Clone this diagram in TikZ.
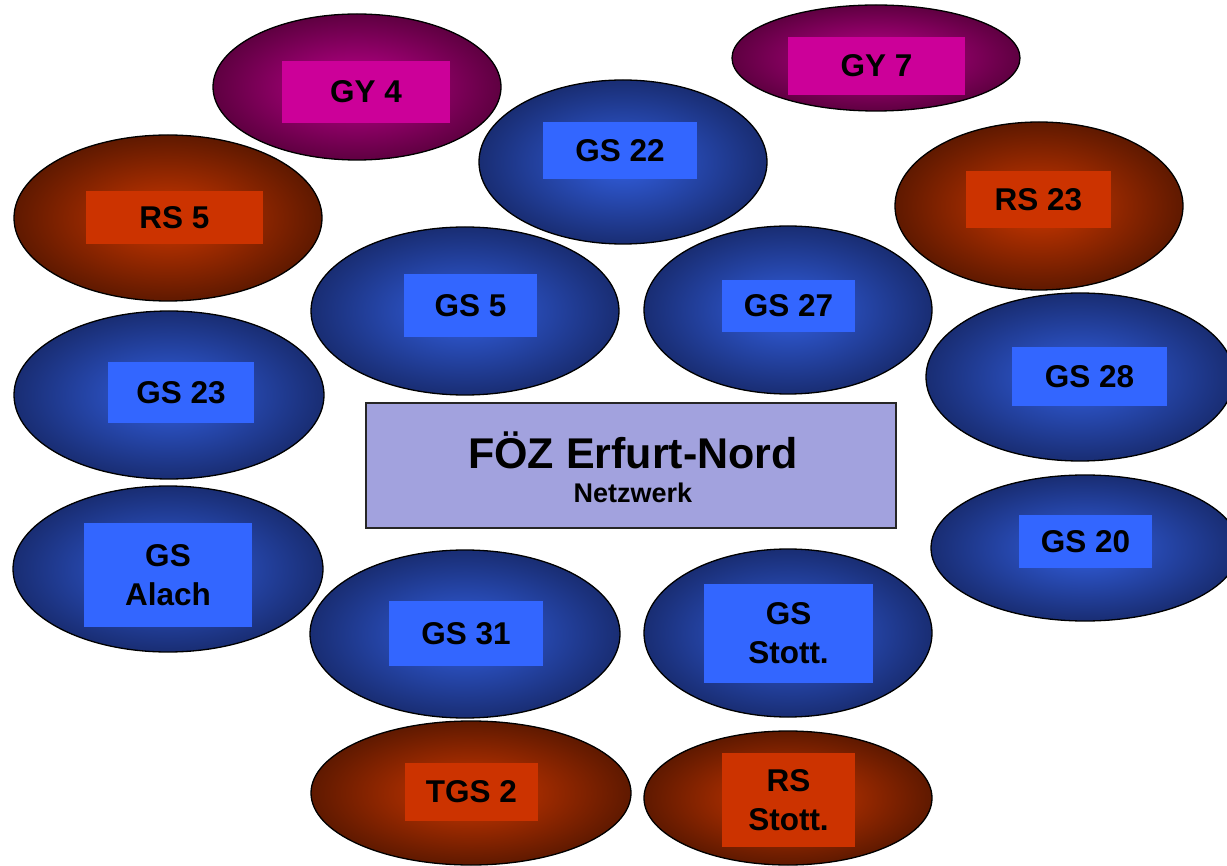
\documentclass[tikz,border=0pt]{standalone}
\usepackage{fontspec}
\setmainfont{Liberation Sans}
\usetikzlibrary{shapes.geometric}
\definecolor{magrect}{RGB}{204,0,153}
\definecolor{magin}{RGB}{190,0,140}
\definecolor{magout}{RGB}{95,0,65}
\definecolor{redrect}{RGB}{204,51,0}
\definecolor{redin}{RGB}{205,55,0}
\definecolor{redout}{RGB}{95,25,0}
\definecolor{bluerect}{RGB}{51,102,255}
\definecolor{bluein}{RGB}{50,95,225}
\definecolor{blueout}{RGB}{25,45,115}
\definecolor{centerfill}{RGB}{162,162,222}
\tikzset{
  blob/.style={ellipse, draw=black, line width=1.3pt, inner sep=0pt, shading=radial},
  magblob/.style={blob, inner color=magin, outer color=magout},
  redblob/.style={blob, inner color=redin, outer color=redout},
  blueblob/.style={blob, inner color=bluein, outer color=blueout},
  lbl/.style={rectangle, inner sep=0pt, align=center, font=\fontsize{31.5}{39}\selectfont\bfseries, text=black},
  maglbl/.style={lbl, fill=magrect},
  redlbl/.style={lbl, fill=redrect},
  bluelbl/.style={lbl, fill=bluerect},
}
\begin{document}
\begin{tikzpicture}[x=1pt,y=-1pt]
\clip (0,0) rectangle (1227,866);
\fill[white] (0,0) rectangle (1227,866);
% ellipses
\node[magblob, minimum width=288pt, minimum height=146pt] (e1) at (357,87) {};
\node[magblob, minimum width=288pt, minimum height=106pt] (e2) at (876,58) {};
\node[blueblob, minimum width=288pt, minimum height=164pt] (e3) at (623,162) {};
\node[redblob, minimum width=308pt, minimum height=166pt] (e4) at (168,218) {};
\node[redblob, minimum width=288pt, minimum height=168pt] (e5) at (1039,206) {};
\node[blueblob, minimum width=308pt, minimum height=168pt] (e6) at (465,311) {};
\node[blueblob, minimum width=288pt, minimum height=168pt] (e7) at (788,310) {};
\node[blueblob, minimum width=308pt, minimum height=168pt] (e8) at (1080,377) {};
\node[blueblob, minimum width=310pt, minimum height=168pt] (e9) at (169,395) {};
\node[blueblob, minimum width=310pt, minimum height=166pt] (e10) at (168,569) {};
\node[blueblob, minimum width=308pt, minimum height=146pt] (e11) at (1085,548) {};
\node[blueblob, minimum width=310pt, minimum height=168pt] (e12) at (465,634) {};
\node[blueblob, minimum width=288pt, minimum height=168pt] (e13) at (788,633) {};
\node[redblob, minimum width=320pt, minimum height=144pt] (e14) at (471,793) {};
\node[redblob, minimum width=288pt, minimum height=134pt] (e15) at (788,798) {};
% labels
\node[maglbl, minimum width=168pt, minimum height=62pt] (t1) at (366,92) {GY 4};
\node[maglbl, minimum width=177pt, minimum height=58pt] (t2) at (876.5,66) {GY 7};
\node[bluelbl, minimum width=154pt, minimum height=57pt] (t3) at (620,150.5) {GS 22};
\node[redlbl, minimum width=177pt, minimum height=53pt] (t4) at (174.5,217.5) {RS 5};
\node[redlbl, minimum width=145pt, minimum height=57pt] (t5) at (1038.5,199.5) {RS 23};
\node[bluelbl, minimum width=133pt, minimum height=63pt] (t6) at (470.5,305.5) {GS 5};
\node[bluelbl, minimum width=133pt, minimum height=52pt] (t7) at (788.5,306) {GS 27};
\node[bluelbl, minimum width=155pt, minimum height=59pt] (t8) at (1089.5,376.5) {GS 28};
\node[bluelbl, minimum width=146pt, minimum height=61pt] (t9) at (181,392.5) {GS 23};
\node[bluelbl, minimum width=168pt, minimum height=104pt] (t10) at (168,575) {GS\\Alach};
\node[bluelbl, minimum width=133pt, minimum height=53pt] (t11) at (1085.5,541.5) {GS 20};
\node[bluelbl, minimum width=154pt, minimum height=65pt] (t12) at (466,633.5) {GS 31};
\node[bluelbl, minimum width=169pt, minimum height=99pt] (t13) at (788.5,633.5) {GS\\Stott.};
\node[redlbl, minimum width=133pt, minimum height=58pt] (t14) at (471.5,792) {TGS 2};
\node[redlbl, minimum width=133pt, minimum height=94pt] (t15) at (788.5,800) {RS\\Stott.};
% centre box
\node[rectangle, draw=black!85, line width=1.5pt, fill=centerfill, minimum width=530pt, minimum height=125pt, inner sep=0pt] (hub) at (631,465.5) {};
\node[font=\fontsize{43}{50}\selectfont\bfseries, inner sep=0pt] (title) at (633,450) {FÖZ Erfurt-Nord};
\node[font=\fontsize{27}{32}\selectfont\bfseries, inner sep=0pt] (sub) at (633,493) {Netzwerk};
\end{tikzpicture}
\end{document}
